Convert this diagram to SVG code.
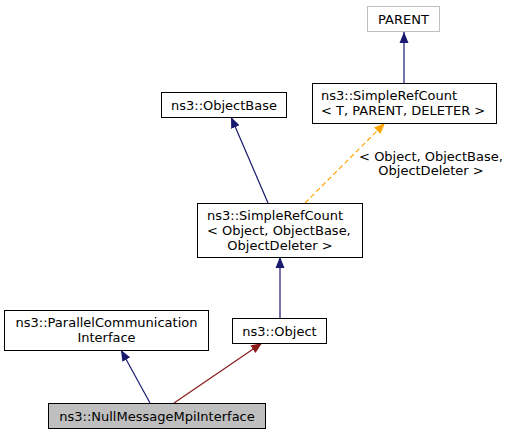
<svg xmlns="http://www.w3.org/2000/svg" width="509" height="435" viewBox="0 0 509 435">
<defs>
<style>
text{font-family:"DejaVu Sans","Liberation Sans",sans-serif;font-size:13px;fill:#000}
.c{text-anchor:middle}
.box{fill:#fff;stroke:#000;stroke-width:1}
.ghost{fill:#fff;stroke:#bfbfbf;stroke-width:1}
.self{fill:#bfbfbf;stroke:#000;stroke-width:1}
.pub{stroke:#191970;fill:none;stroke-width:1.2}
.priv{stroke:#8b1a1a;fill:none;stroke-width:1.2}
.tmpl{stroke:#ffa500;fill:none;stroke-width:1.2;stroke-dasharray:5,3}
</style>
<marker id="aPub" markerUnits="userSpaceOnUse" markerWidth="12" markerHeight="10" refX="11" refY="5" orient="auto"><path d="M0,0.5 L11,5 L0,9.5 z" fill="#191970"/></marker>
<marker id="aPriv" markerUnits="userSpaceOnUse" markerWidth="12" markerHeight="10" refX="11" refY="5" orient="auto"><path d="M0,0.5 L11,5 L0,9.5 z" fill="#8b1a1a"/></marker>
<marker id="aTmpl" markerUnits="userSpaceOnUse" markerWidth="12" markerHeight="10" refX="11" refY="5" orient="auto"><path d="M0,0.5 L11,5 L0,9.5 z" fill="#ffa500"/></marker>
</defs>
<g id="connectors">
<path class="pub" d="M404,83 L404,32" marker-end="url(#aPub)"/>
<path class="pub" d="M268,203 L231,117" marker-end="url(#aPub)"/>
<path class="tmpl" d="M305,203 L385,123" marker-end="url(#aTmpl)"/>
<text class="c" x="431" y="161">&lt; Object, ObjectBase,</text>
<text class="c" x="431" y="175">ObjectDeleter &gt;</text>
<path class="pub" d="M280,318 L280,257" marker-end="url(#aPub)"/>
<path class="pub" d="M150,403 L121,350" marker-end="url(#aPub)"/>
<path class="priv" d="M174,403 L262,343" marker-end="url(#aPriv)"/>
</g>
<g id="PARENT">
<rect class="ghost" x="367.5" y="6.5" width="72" height="25"/>
<text class="c" x="403.5" y="24">PARENT</text>
</g>
<g id="SimpleRefCountT">
<rect class="box" x="312.5" y="83.5" width="184" height="40"/>
<text x="321" y="100">ns3::SimpleRefCount</text>
<text x="321" y="115">&lt; T, PARENT, DELETER &gt;</text>
</g>
<g id="ObjectBase">
<rect class="box" x="161.5" y="92.5" width="125" height="25"/>
<text class="c" x="224" y="110">ns3::ObjectBase</text>
</g>
<g id="SimpleRefCountObject">
<rect class="box" x="197.5" y="203.5" width="165" height="54"/>
<text x="207" y="220">ns3::SimpleRefCount</text>
<text x="207" y="235">&lt; Object, ObjectBase,</text>
<text class="c" x="280" y="250">ObjectDeleter &gt;</text>
</g>
<g id="Object">
<rect class="box" x="232.5" y="318.5" width="94" height="25"/>
<text class="c" x="279.5" y="336">ns3::Object</text>
</g>
<g id="ParallelCommunicationInterface">
<rect class="box" x="4.5" y="310.5" width="204" height="40"/>
<text class="c" x="106.5" y="327">ns3::ParallelCommunication</text>
<text class="c" x="106.5" y="342">Interface</text>
</g>
<g id="NullMessageMpiInterface">
<rect class="self" x="48.5" y="403.5" width="217" height="25"/>
<text class="c" x="157" y="421">ns3::NullMessageMpiInterface</text>
</g>
</svg>
